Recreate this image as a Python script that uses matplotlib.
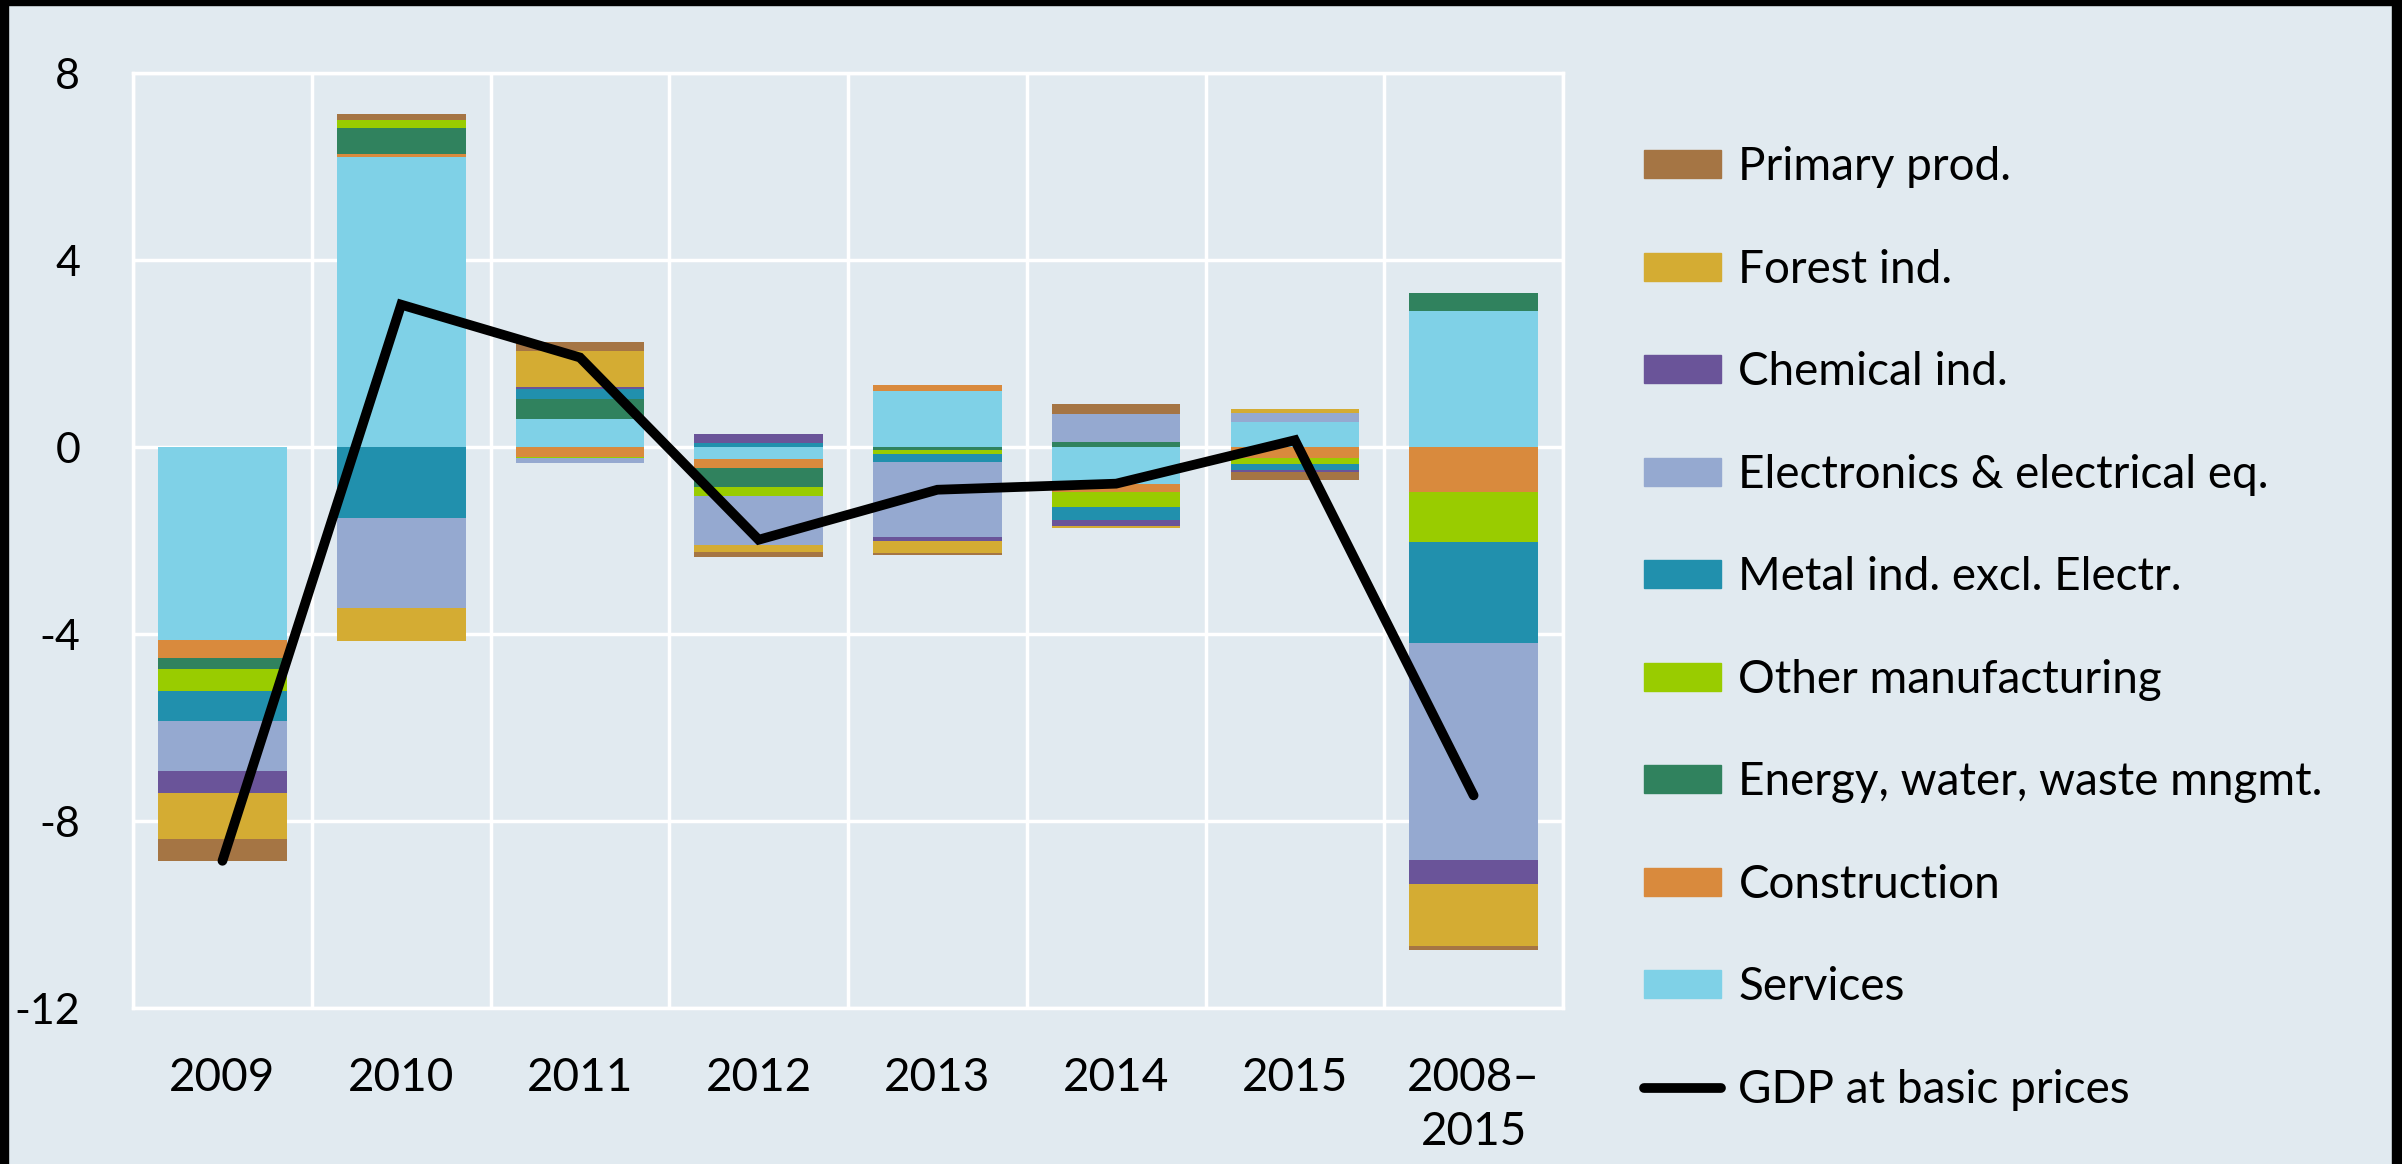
import numpy as np
import matplotlib
matplotlib.use("Agg")
import matplotlib.pyplot as plt
from matplotlib.patches import Rectangle
from matplotlib.lines import Line2D

# categories and contributions (percentage points), legend order
years = ["2009", "2010", "2011", "2012", "2013", "2014", "2015", "2008–\n2015"]

primary = [-0.47, 0.12, 0.20, -0.09, -0.04, 0.21, -0.17, -0.09]
forest = [-0.99, -0.72, 0.78, -0.16, -0.27, -0.04, 0.08, -1.33]
chemical = [-0.47, 0.00, 0.04, 0.21, -0.08, -0.13, -0.05, -0.51]
electronics = [-1.08, -1.92, -0.09, -1.05, -1.61, 0.61, 0.18, -4.63]
metal = [-0.63, -1.51, 0.21, 0.08, -0.17, -0.29, -0.12, -2.18]
other_manuf = [-0.48, 0.19, -0.04, -0.18, -0.09, -0.31, -0.13, -1.07]
energy = [-0.24, 0.55, 0.43, -0.42, -0.05, 0.11, 0.00, 0.38]
construction = [-0.38, 0.05, -0.20, -0.18, 0.13, -0.17, -0.23, -0.95]
services = [-4.12, 6.22, 0.60, -0.26, 1.20, -0.79, 0.55, 2.92]
gdp = [-8.85, 3.05, 1.92, -1.98, -0.91, -0.78, 0.15, -7.45]

yticks = [8, 4, 0, -4, -8, -12]

labels = ["Primary prod.", "Forest ind.", "Chemical ind.",
          "Electronics & electrical eq.", "Metal ind. excl. Electr.",
          "Other manufacturing", "Energy, water, waste mngmt.",
          "Construction", "Services"]
colors = ["#A57544", "#D4AC33", "#6A5499", "#95A9D0", "#2190AD",
          "#99CC00", "#30825E", "#D98A3D", "#7FD1E7"]
series = [primary, forest, chemical, electronics, metal,
          other_manuf, energy, construction, services]

bg = "#E1EAF0"
plt.rcParams["font.family"] = ["Lato", "DejaVu Sans"]

fig = plt.figure(figsize=(24.02, 11.64), dpi=100, facecolor=bg)
ax = fig.add_axes([0.0554, 0.134, 0.5953, 0.803])
ax.set_facecolor(bg)

x = np.arange(len(years))
pos_bottom = np.zeros(len(years))
neg_bottom = np.zeros(len(years))
# excel stacks the last legend entry closest to zero
for vals, lab, col in reversed(list(zip(series, labels, colors))):
    v = np.array(vals)
    bottoms = np.where(v >= 0, pos_bottom, neg_bottom)
    ax.bar(x, v, width=0.72, bottom=bottoms, color=col, linewidth=0, zorder=3)
    pos_bottom += np.where(v >= 0, v, 0)
    neg_bottom += np.where(v < 0, v, 0)

ax.plot(x, gdp, color="black", lw=7, solid_joinstyle="miter",
        solid_capstyle="round", zorder=4)

ax.set_xlim(-0.5, len(years) - 0.5)
ax.set_ylim(-12, 8)
ax.set_yticks(yticks)
ax.set_yticklabels([str(t) for t in yticks])
ax.set_xticks(x)
ax.set_xticklabels(years, linespacing=1.37)
ax.set_xticks(np.arange(-0.5, len(years), 1), minor=True)
ax.grid(True, axis="y", which="major", color="white", lw=2.5, zorder=1)
ax.grid(True, axis="x", which="minor", color="white", lw=2.5, zorder=1)
ax.tick_params(axis="both", which="both", length=0)
ax.tick_params(axis="y", labelsize=31, pad=38)
ax.tick_params(axis="x", labelsize=33, pad=35)
for s in ax.spines.values():
    s.set_color("white")
    s.set_linewidth(2.5)
    s.set_zorder(1)

leg_handles = [Rectangle((0, 0), 1, 1, color=c) for c in colors]
leg_handles.append(Line2D([0], [0], color="black", lw=7, solid_capstyle="round"))
leg_labels = labels + ["GDP at basic prices"]
fig.legend(leg_handles, leg_labels, loc="upper left",
           bbox_to_anchor=(0.677, 0.890), frameon=False, fontsize=33,
           handlelength=1.68, handleheight=0.57, handletextpad=0.37,
           labelspacing=1.32, borderaxespad=0)

# black frame on the edges of the picture
fig.patches.append(Rectangle((0, 0.9957), 1, 0.0043, transform=fig.transFigure,
                             color="black", zorder=10))
fig.patches.append(Rectangle((0, 0), 0.0035, 1, transform=fig.transFigure,
                             color="black", zorder=10))
fig.patches.append(Rectangle((0.9958, 0), 0.0042, 1, transform=fig.transFigure,
                             color="black", zorder=10))

fig.savefig("out.png", dpi=100, facecolor=bg)
